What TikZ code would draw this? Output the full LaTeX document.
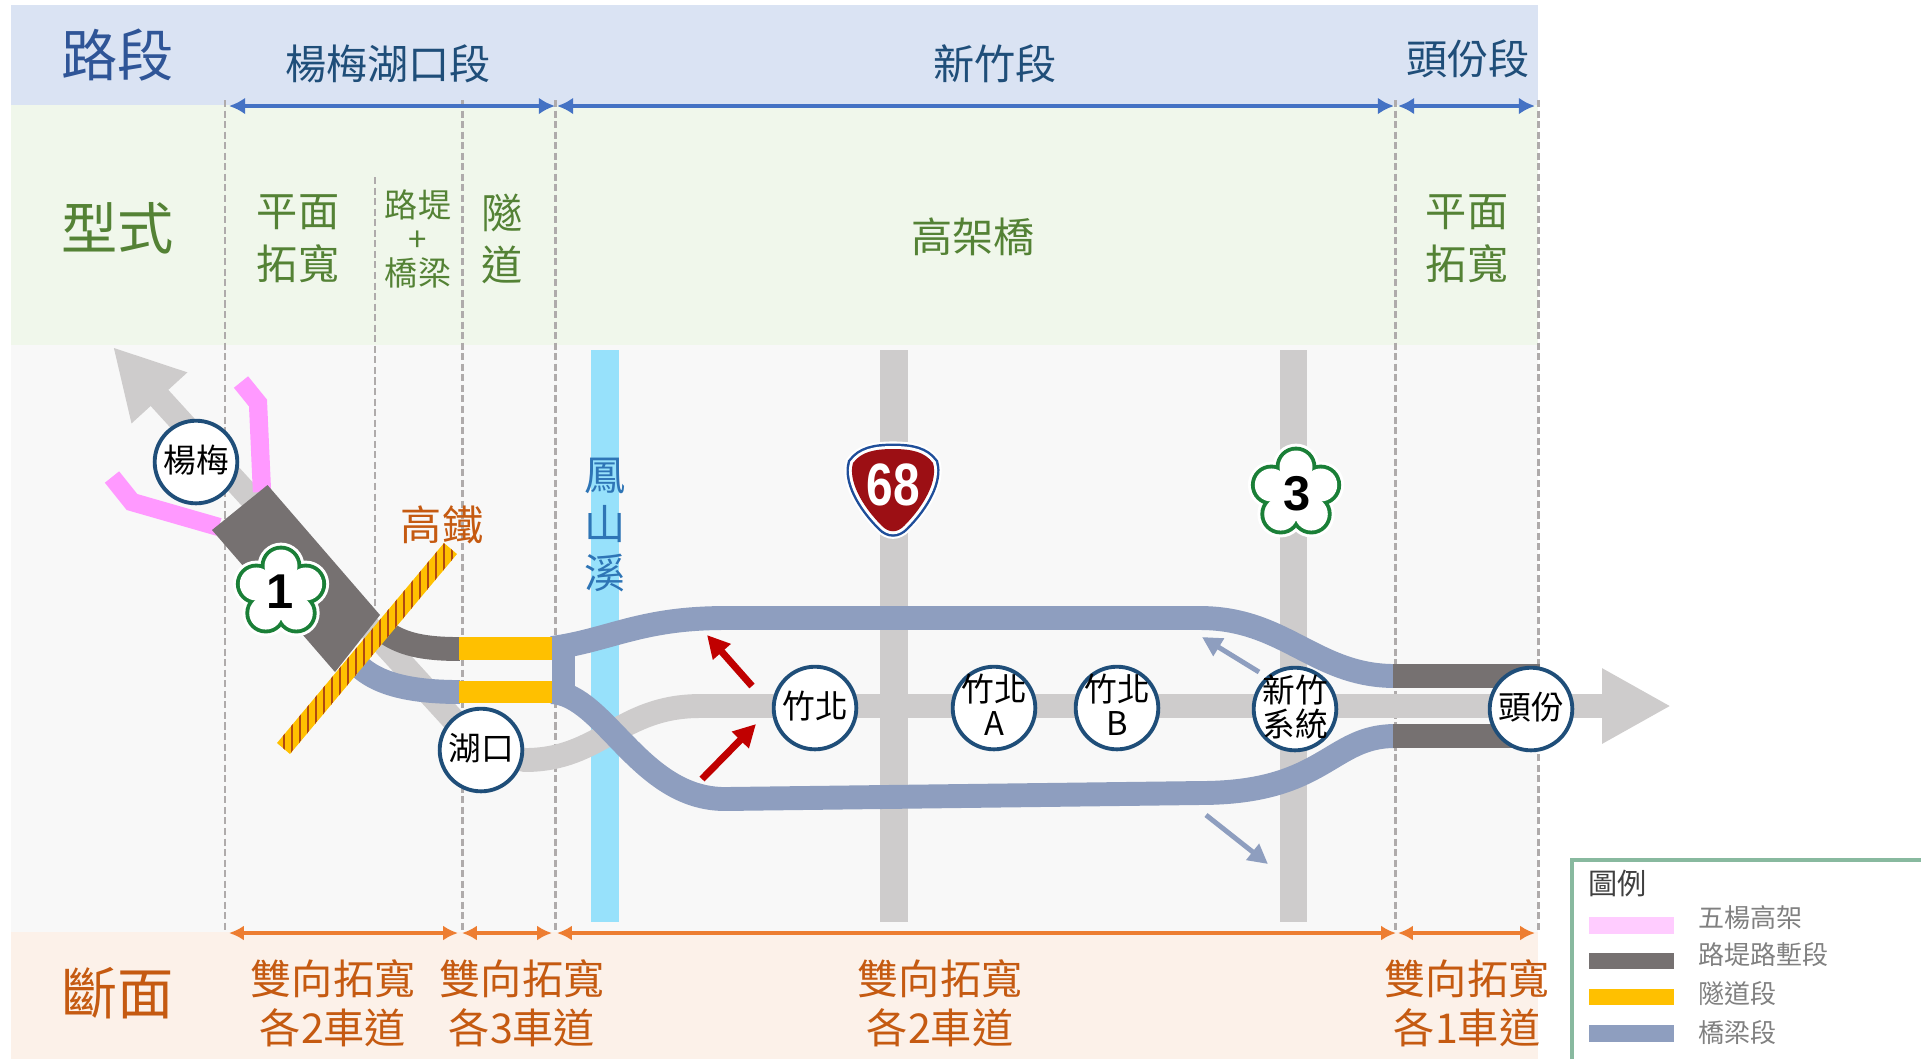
\documentclass[tikz,border=0pt]{standalone}
\usepackage{fontspec}
\setmainfont{Noto Sans CJK TC}
\newfontfamily\signfont{Liberation Sans}
\usetikzlibrary{arrows.meta}
\definecolor{bandBlue}{HTML}{DAE3F3}
\definecolor{bandGreen}{HTML}{F0F7EB}
\definecolor{bandGrey}{HTML}{F8F8F8}
\definecolor{bandOrange}{HTML}{FCF1E9}
\definecolor{dashGrey}{HTML}{AFABAB}
\definecolor{roadGrey}{HTML}{CECCCC}
\definecolor{bankGrey}{HTML}{767171}
\definecolor{bridgeBlue}{HTML}{8E9EBF}
\definecolor{tunnelYellow}{HTML}{FFC000}
\definecolor{fiveYang}{HTML}{FF99FF}
\definecolor{riverBlue}{HTML}{97E1FB}
\definecolor{riverText}{HTML}{2E75B6}
\definecolor{ringBlue}{HTML}{1F4E79}
\definecolor{headBlue}{HTML}{2F5597}
\definecolor{textGreen}{HTML}{548235}
\definecolor{textOrange}{HTML}{C55A11}
\definecolor{dimBlueLine}{HTML}{4472C4}
\definecolor{dimOrangeLine}{HTML}{ED7D31}
\definecolor{arrowRed}{HTML}{C00000}
\definecolor{plumGreen}{HTML}{1A7F37}
\definecolor{shieldRed}{HTML}{9C0F14}
\definecolor{shieldBlue}{HTML}{1F4E9A}
\definecolor{hsrRed}{HTML}{B04A10}
\definecolor{legendGreen}{HTML}{88B99F}
\def\shieldpath{(893,449) .. controls (912,449) and (925,452) .. (933,463) .. controls (938,480) and (925,505) .. (904,526) .. controls (897,533) and (889,533) .. (882,526) .. controls (861,505) and (848,480) .. (853,463) .. controls (861,452) and (874,449) .. (893,449) -- cycle}
\tikzset{
	headtext/.style={inner sep=0pt, font=\fontsize{16}{19}\selectfont},
	seclabel/.style={inner sep=0pt, text=ringBlue, font=\fontsize{11.7}{14}\selectfont},
	sectext/.style={inner sep=0pt, align=center, text=textGreen, font=\fontsize{11.7}{15}\selectfont},
	widthtext/.style={inner sep=0pt, align=center, text=textOrange, font=\fontsize{11.7}{13.9}\selectfont},
	station/.style={draw=ringBlue, fill=white, circle, line width=1.1pt, minimum size=23.5pt, inner sep=-4pt, text depth=2pt, align=center, font=\fontsize{9.3}{9.6}\selectfont},
	road/.style={line width=6.8pt},
	bigtip/.style={-{Triangle[length=19.6pt, width=20pt]}},
	dimblue/.style={draw=dimBlueLine, line width=1.2pt, {Latex[length=4.6pt, width=4.8pt]}-{Latex[length=4.6pt, width=4.8pt]}},
	dimorange/.style={draw=dimOrangeLine, line width=1.2pt, {Latex[length=4.2pt, width=4.2pt]}-{Latex[length=4.2pt, width=4.2pt]}},
	redarrow/.style={draw=arrowRed, line width=2pt, -{Triangle[length=6.4pt, width=6.4pt]}},
	bluearrow/.style={draw=bridgeBlue, line width=1.4pt, -{Triangle[length=5.6pt, width=5.6pt]}},
	gridline/.style={draw=dashGrey, line width=0.85pt, dash pattern=on 2pt off 1pt},
	swatch/.style={minimum width=24pt, minimum height=4.8pt, inner sep=0pt},
	legendtext/.style={inner sep=0pt, anchor=west, text=black!50, font=\fontsize{7.4}{9}\selectfont},
	signnum/.style={inner sep=0pt, font=\signfont\bfseries\fontsize{13.9}{16}\selectfont},
	plum/.pic={
		\foreach \a in {-90,-18,54,126,198}{
			\draw[white, line width=3.9pt] (\a:26) circle[radius=16.5];}
		\foreach \a in {-90,-18,54,126,198}{
			\draw[plumGreen, line width=2.2pt] (\a:26) circle[radius=16.5];}
		\foreach \a in {-90,-18,54,126,198}{
			\fill[white] (\a:26) circle[radius=16.5];}
		\fill[white] (0,0) circle[radius=20];
	}
}
\begin{document}
\begin{tikzpicture}[x=0.01cm, y=-0.01cm]
	\useasboundingbox (0,0) rectangle (1921,1059);
	
	%Bands
	\fill[bandBlue] (11,5) rectangle (1538,105);
	\fill[bandGreen] (11,105) rectangle (1538,345);
	\fill[bandGrey] (11,345) rectangle (1538,932);
	\fill[bandOrange] (11,932) rectangle (1538,1059);
	
	%Names of the rows
	\node (rowSection) at (118,55) [headtext, text=headBlue]{路段};
	\node (rowType) at (118,228) [headtext, text=textGreen]{型式};
	\node (rowCross) at (118,993) [headtext, text=textOrange]{斷面};
	
	\node (secYang) at (388,64) [seclabel]{楊梅湖口段};
	\node (secHsin) at (995,64) [seclabel]{新竹段};
	\node (secTou) at (1468,59) [seclabel]{頭份段};
	
	\node (typeFlatA) at (298,239) [sectext]{平面\\拓寬};
	\node (typeBank) at (418,239) [sectext, font=\fontsize{9.4}{9.7}\selectfont]{路堤\\+\\橋梁};
	\node (typeTunnel) at (502,239) [sectext]{隧\\道};
	\node (typeViaduct) at (973,237) [sectext]{高架橋};
	\node (typeFlatB) at (1467,239) [sectext]{平面\\拓寬};
	
	\node (wideA) at (333,1003) [widthtext]{雙向拓寬\\各2車道};
	\node (wideB) at (522,1003) [widthtext]{雙向拓寬\\各3車道};
	\node (wideC) at (940,1003) [widthtext]{雙向拓寬\\各2車道};
	\node (wideD) at (1467,1003) [widthtext]{雙向拓寬\\各1車道};
	
	%Grid
	\coordinate (gridA) at (225,100);
	\coordinate (gridAend) at (225,932);
	\coordinate (gridB) at (375,177);
	\coordinate (gridBend) at (375,620);
	\coordinate (gridC) at (462,100);
	\coordinate (gridCend) at (462,932);
	\coordinate (gridD) at (555,100);
	\coordinate (gridDend) at (555,932);
	\coordinate (gridE) at (1395,100);
	\coordinate (gridEend) at (1395,932);
	\coordinate (gridF) at (1538,100);
	\coordinate (gridFend) at (1538,932);
	\draw[gridline] (gridA) -- (gridAend);
	\draw[gridline] (gridB) -- (gridBend);
	\draw[gridline] (gridC) -- (gridCend);
	\draw[gridline] (gridD) -- (gridDend);
	\draw[gridline] (gridE) -- (gridEend);
	\draw[gridline] (gridF) -- (gridFend);
	
	%Links on the section row
	\coordinate (topA) at (229,106);
	\coordinate (topB) at (555,106);
	\coordinate (topC) at (557,106);
	\coordinate (topD) at (1394,106);
	\coordinate (topE) at (1398,106);
	\coordinate (topF) at (1535,106);
	\draw[dimblue] (topA) -- (topB);
	\draw[dimblue] (topC) -- (topD);
	\draw[dimblue] (topE) -- (topF);
	
	%Links on the cross section row
	\coordinate (lowA) at (229,933);
	\coordinate (lowB) at (458,933);
	\coordinate (lowC) at (462,933);
	\coordinate (lowD) at (552,933);
	\coordinate (lowE) at (557,933);
	\coordinate (lowF) at (1396,933);
	\coordinate (lowG) at (1398,933);
	\coordinate (lowH) at (1535,933);
	\draw[dimorange] (lowA) -- (lowB);
	\draw[dimorange] (lowC) -- (lowD);
	\draw[dimorange] (lowE) -- (lowF);
	\draw[dimorange] (lowG) -- (lowH);
	
	%River
	\fill[riverBlue] (591,350) rectangle (619,922);
	\node (river) at (605,525) [inner sep=0pt, align=center, text=riverText, font=\fontsize{11.7}{13.9}\selectfont]{鳳\\山\\溪};
	
	%Crossing roads
	\fill[roadGrey] (880,350) rectangle (908,922);
	\fill[roadGrey] (1280,350) rectangle (1307,922);
	
	%Places
	\coordinate (yangPt) at (196,462);
	\coordinate (huPt) at (481,750);
	\coordinate (zhuPt) at (815,708);
	\coordinate (zhuAPt) at (994,708);
	\coordinate (zhuBPt) at (1117,708);
	\coordinate (hsinPt) at (1295,709);
	\coordinate (touPt) at (1531,709);
	\coordinate (northTip) at (113,347);
	\coordinate (southTip) at (1671,706);
	
	%Old road
	\draw[roadGrey, road, bigtip] (huPt) -- (northTip);
	\draw[roadGrey, road] (huPt) -- (525,760) .. controls (600,760) and (620,706) .. (700,706) -- (1610,706);
	\draw[roadGrey, road, bigtip] (1590,706) -- (southTip);
	
	%Five Yang viaduct
	\draw[fiveYang, line width=5.2pt] (241,382) -- (258,403) -- (262,492);
	\draw[fiveYang, line width=5.2pt] (112,477) -- (132,502) -- (219,527);
	
	%Embankment
	\fill[bankGrey] (267.5,485) -- (212,530) -- (335,672) -- (380,615) -- cycle;
	\draw[bankGrey, road] (380,628) .. controls (400,645) and (425,649) .. (460,649);
	
	%Bridge sections
	\draw[bridgeBlue, road] (358,665) .. controls (380,687) and (420,692) .. (460,692);
	\draw[bridgeBlue, road] (552,648) .. controls (610,640) and (640,618) .. (725,618) -- (1200,618) .. controls (1285,618) and (1315,676) .. (1395,676);
	\draw[bridgeBlue, road] (552,692) .. controls (605,695) and (640,799) .. (725,799) -- (1200,793) .. controls (1325,793) and (1330,736) .. (1395,736);
	\fill[bridgeBlue] (552,637) rectangle (575,703);
	\draw[bankGrey, road] (1393,676) -- (1540,676);
	\draw[bankGrey, road] (1393,736) -- (1540,736);
	
	%Tunnels
	\fill[tunnelYellow] (459,637) rectangle (552,660);
	\fill[tunnelYellow] (459,681) rectangle (552,703);
	
	%High speed rail
	\fill[tunnelYellow] (444,543) -- (457,554) -- (290,754) -- (277,743) -- cycle;
	\begin{scope}
		\clip (444,543) -- (457,554) -- (290,754) -- (277,743) -- cycle;
		\foreach \xx in {276,284,...,460}{
			\draw[hsrRed, line width=0.4pt] (\xx,540) -- (\xx,760);}
	\end{scope}
	\node (hsr) at (442,525) [inner sep=0pt, text=textOrange, font=\fontsize{11.7}{14}\selectfont]{高鐵};
	
	%Direction arrows
	\coordinate (redAstart) at (752,686);
	\coordinate (redAend) at (707,635);
	\coordinate (redBstart) at (702,779);
	\coordinate (redBend) at (756,724);
	\coordinate (blueAstart) at (1259,672);
	\coordinate (blueAend) at (1202,637);
	\coordinate (blueBstart) at (1206,815);
	\coordinate (blueBend) at (1268,864);
	\draw[redarrow] (redAstart) -- (redAend);
	\draw[redarrow] (redBstart) -- (redBend);
	\draw[bluearrow] (blueAstart) -- (blueAend);
	\draw[bluearrow] (blueBstart) -- (blueBend);
	
	%Stations
	\node (yang) at (yangPt) [station]{楊梅};
	\node (hu) at (huPt) [station]{湖口};
	\node (zhu) at (zhuPt) [station]{竹北};
	\node (zhuA) at (zhuAPt) [station]{竹北\\A};
	\node (zhuB) at (zhuBPt) [station]{竹北\\B};
	\node (hsin) at (hsinPt) [station]{新竹\\系統};
	\node (tou) at (touPt) [station]{頭份};
	
	%Highway signs
	\pic at (281,592) {plum};
	\node (numOne) at (280,592) [signnum]{1};
	\pic at (1296,493) {plum};
	\node (numThree) at (1297,494) [signnum]{3};
	
	\draw[white, line width=4.3pt] \shieldpath;
	\draw[shieldBlue, line width=3.1pt] \shieldpath;
	\draw[white, line width=1.7pt] \shieldpath;
	\fill[shieldRed] \shieldpath;
	\node (numShield) at (893,485) [inner sep=0pt, text=white, xscale=0.8, transform shape, font=\signfont\bfseries\fontsize{17}{19}\selectfont]{68};
	
	%Legend
	\coordinate (legendLow) at (1572,1059);
	\coordinate (legendCorner) at (1572,860);
	\coordinate (legendRight) at (1921,860);
	\draw[legendGreen, line width=1.4pt] (legendLow) -- (legendCorner) -- (legendRight);
	\node (legendTitle) at (1588,883) [inner sep=0pt, anchor=west, text=black!75, font=\fontsize{8.3}{10}\selectfont]{圖例};
	\node (swatchA) at (1631.5,925.5) [swatch, fill=fiveYang!50!white]{};
	\node (swatchB) at (1631.5,961) [swatch, fill=bankGrey]{};
	\node (swatchC) at (1631.5,997) [swatch, fill=tunnelYellow]{};
	\node (swatchD) at (1631.5,1033.5) [swatch, fill=bridgeBlue]{};
	\node (legendA) at (1698,918) [legendtext]{五楊高架};
	\node (legendB) at (1698,955) [legendtext]{路堤路塹段};
	\node (legendC) at (1698,994) [legendtext]{隧道段};
	\node (legendD) at (1698,1033) [legendtext]{橋梁段};
\end{tikzpicture}
\end{document}
